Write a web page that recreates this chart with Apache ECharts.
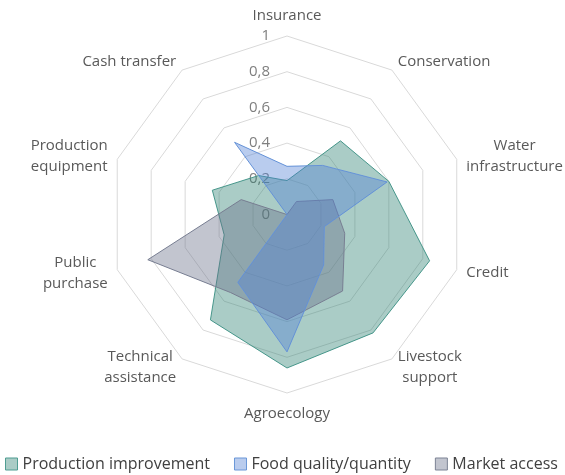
<!DOCTYPE html>
<html>
<head>
    <meta charset="UTF-8">
    <title>Radar</title>
    <script src="https://cdn.jsdelivr.net/npm/echarts@6/dist/echarts.min.js"></script>
</head>
<body style="margin: 0;overflow: hidden;background: #fff;">
<div id="chart" style="width: 565px;height: 475px;"></div>
<script type="text/javascript">
    // indicators listed counter-clockwise from the top (echarts radar order)
    var indicators = ['Insurance', 'Cash transfer', 'Production\nequipment', 'Public\npurchase',
        'Technical\nassistance', 'Agroecology', 'Livestock\nsupport', 'Credit',
        'Water\ninfrastructure', 'Conservation'];
    var seriesNames = ['Production improvement', 'Food quality/quantity', 'Market access'];
    var production = [0.19, 0.27, 0.44, 0.37, 0.73, 0.86, 0.82, 0.84, 0.60, 0.51];
    var food = [0.27, 0.50, 0.00, 0.00, 0.47, 0.77, 0.35, 0.22, 0.59, 0.34];
    var market = [0.00, 0.00, 0.27, 0.82, 0.54, 0.59, 0.53, 0.34, 0.27, 0.09];

    var lineColors = ['#4f9d92', '#6a97d8', '#7d8395'];
    var fillColors = ['#2a7f70', '#507fd4', '#666e87'];
    var fillOpacity = 0.4;

    var chart = echarts.init(document.getElementById('chart'));

    var indicatorList = indicators.map(function (name, i) {
        var item = {name: name, min: 0, max: 1};
        if (i === 0) {
            item.axisLabel = {show: true};
        }
        return item;
    });

    function area(idx, values) {
        return {
            name: seriesNames[idx], value: values,
            lineStyle: {color: lineColors[idx], width: 1},
            areaStyle: {color: fillColors[idx], opacity: fillOpacity},
            itemStyle: {color: lineColors[idx]}
        };
    }

    var option = {
        animation: false,
        textStyle: {fontFamily: 'Open Sans'},
        legend: {
            bottom: 3,
            left: 5,
            padding: 0,
            icon: 'rect',
            itemWidth: 12,
            itemHeight: 12,
            itemGap: 24,
            textStyle: {fontSize: 16, color: '#404040', fontFamily: 'Open Sans'},
            data: seriesNames.map(function (n, i) {
                return {
                    name: n,
                    itemStyle: {color: echarts.color.modifyAlpha(fillColors[i], fillOpacity), borderColor: lineColors[i], borderWidth: 1}
                };
            })
        },
        radar: {
            center: [287, 214.5],
            radius: 178.5,
            startAngle: 90,
            shape: 'polygon',
            splitNumber: 5,
            indicator: indicatorList,
            nameGap: 10,
            axisName: {
                color: '#595959',
                fontSize: 15,
                fontFamily: 'Open Sans',
                lineHeight: 21,
                formatter: function (name) {
                    return name.split('\n').map(function (s) {
                        return '{c|' + s + '}';
                    }).join('\n');
                },
                rich: {
                    c: {align: 'center', fontSize: 15, color: '#595959', fontFamily: 'Open Sans', lineHeight: 21}
                }
            },
            axisLine: {show: false},
            axisTick: {show: false},
            splitArea: {show: false},
            splitLine: {lineStyle: {color: '#d9d9d9', width: 1}},
            axisLabel: {
                show: false,
                color: '#7f7f7f',
                fontSize: 15,
                margin: 17,
                formatter: function (v) {
                    return String(v).replace('.', ',');
                }
            }
        },
        series: [{
            type: 'radar',
            symbol: 'none',
            // blue is drawn last so it sits on top, as in the original
            data: [area(0, production), area(2, market), area(1, food)]
        }]
    };
    chart.setOption(option);
</script>
</body>
</html>
